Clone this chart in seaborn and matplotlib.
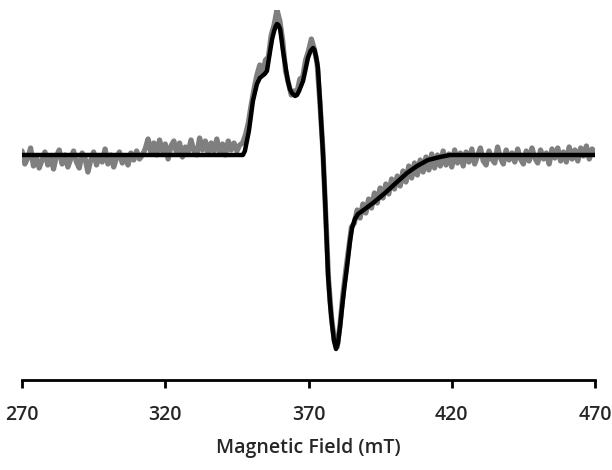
import numpy as np
import matplotlib
matplotlib.use('Agg')
import matplotlib.pyplot as plt
import seaborn as sns

# Experimental spectrum (grey, noisy), sampled every 1 mT from 270 to 470
field_exp = np.arange(270, 471)
signal_exp = [
    4, -9, -3, 7, -11, -2, -13, -5, 3, -10, -2, -14, -1, 5, -9, 0, -12, -4, 4, -7,
    -13, 2, -3, -17, -5, 3, -10, -1, -7, 6, -9, 0, -12, -3, 3, -8, -1, -10, 2, -5,
    4, -4, 0, 6,
    16, 3, 12, 0, 15, 4, 11, -4, 9, 14, 1, 12, -2, 8, 3, 15, 4, 0, 17, 5,
    14, 1, 12, 4, 16, 2, 11, 0, 14, 5, 12, 4,
    10, 12, 20, 32, 50, 66, 80, 90, 82, 95, 98, 120, 130, 145, 134, 114, 84, 72, 60, 64,
    63, 76, 78, 95, 104, 116, 106, 92, 52, 6, -60, -125, -162, -185, -192, -170, -140, -116, -94, -72,
    -68, -55, -63, -49, -58, -44, -53, -38, -48, -33, -43, -29, -39, -24, -34, -21, -31, -16, -27, -11,
    -23, -8, -20, -5, -17, -2, -15, 1, -13, 0, -11, 4, -10, 1, -12, 5, -8, 2, -11, 3,
    -7, 6, -9, -1, 7, -6, -10, 4, -4, -8, 8, -3, -9, 5, -5, 2, -7, 6, -4, -9,
    4, -6, 7, -3, -8, 5, -4, 2, -9, 6, -3, 7, -6, 3, -7, 8, -4, 5, -6, 7,
    -1, 9, -4, 6, 2,
]

# Simulated spectrum (black, smooth)
field_sim = [270, 300, 330, 345, 347.1, 347.8, 349.2, 350.6, 352.0, 353.0, 353.8, 354.7,
             355.5, 356.6, 357.3, 358.0, 358.6, 359.0, 359.5, 360.1, 361.1, 362.0,
             362.8, 363.5, 364.2, 365.3, 366.0, 366.7, 367.4, 368.1, 369.0, 369.8,
             370.7, 371.6, 372.1, 372.6, 373.3, 374.0, 374.7, 375.1, 375.8, 376.8,
             377.5, 378.2, 378.9, 379.6, 380.3, 381.0, 381.7, 382.5, 383.4, 384.5,
             385.2, 386.2, 387.3, 389.7, 392.5, 396.7, 400.9, 404.4, 407.9, 411.7,
             415.9, 419.4, 440, 470]
signal_sim = [0, 0, 0, 0, 0, 4, 24, 54, 71, 77, 79, 81,
              84, 104, 116, 124, 129, 131, 130, 126, 104, 88,
              74, 66, 62, 59, 60, 64, 69, 74, 86, 97,
              104, 107, 105, 99, 87, 54, 19, -1, -46, -119,
              -148, -169, -186, -194, -188, -172, -153, -133, -113, -86,
              -73, -64, -59, -54, -48, -38, -27, -18, -11, -5,
              -2, 0, 0, 0]

xticks = [270, 320, 370, 420, 470]

sns.set_style('white')
plt.rcParams['font.family'] = ['Open Sans', 'DejaVu Sans']

fig = plt.figure(figsize=(6.12, 4.70), dpi=100)
ax = fig.add_axes([22 / 612, (470 - 380) / 470, (595 - 22) / 612, (380 - 10) / 470])

sns.lineplot(x=field_exp, y=signal_exp, ax=ax, color='#7f7f7f', linewidth=3.8, sort=False)
sns.lineplot(x=field_sim, y=signal_sim, ax=ax, color='black', linewidth=3.2, sort=False)

ax.set_xlim(270, 470)
ax.set_ylim(-225, 145)
ax.set_xticks(xticks)
ax.set_yticks([])
for side in ['top', 'right', 'left']:
    ax.spines[side].set_visible(False)
ax.spines['bottom'].set_linewidth(2)
ax.spines['bottom'].set_color('black')
ax.tick_params(axis='x', direction='out', length=6, width=2, color='black',
               labelsize=14, pad=12, bottom=True)
for lab in ax.get_xticklabels():
    lab.set_fontweight('semibold')
ax.set_xlabel('Magnetic Field (mT)', fontsize=14, labelpad=9, fontweight='semibold')
ax.set_ylabel('')

fig.savefig('out.png', dpi=100)
